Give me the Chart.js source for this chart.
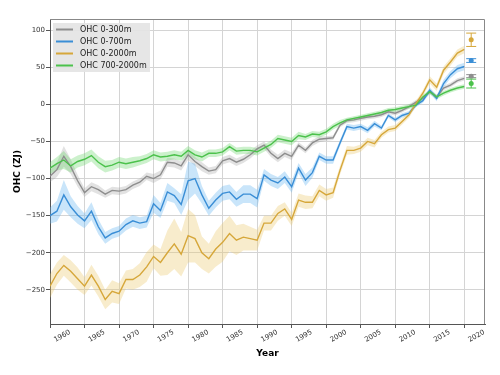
<!DOCTYPE html>
<html>
<head>
<meta charset="utf-8">
<script src="https://cdn.jsdelivr.net/npm/chart.js@4.4.1/dist/chart.umd.min.js"></script>
<style>
  html, body { margin: 0; padding: 0; background: #fff; }
</style>
</head>
<body>
<canvas id="chart" width="500" height="375"></canvas>
<script>
// years of the annual series
const years = [1960,1961,1962,1963,1964,1965,1966,1967,1968,1969,
  1970,1971,1972,1973,1974,1975,1976,1977,1978,1979,
  1980,1981,1982,1983,1984,1985,1986,1987,1988,1989,
  1990,1991,1992,1993,1994,1995,1996,1997,1998,1999,
  2000,2001,2002,2003,2004,2005,2006,2007,2008,2009,
  2010,2011,2012,2013,2014,2015,2016,2017,2018,2019,2020];

// OHC anomalies (ZJ)
const ohc300 = [-97,-88,-70,-84,-103,-119,-111,-115,-121,-116,
  -117,-115,-109,-105,-97,-100,-95,-78,-79,-83,
  -68,-77,-84,-90,-88,-76,-73,-78,-74,-68,
  -60,-55,-66,-73,-66,-70,-55,-62,-52,-47,
  -46,-45,-28,-22,-21,-19,-17,-16,-14,-10,
  -12,-8,-3,3,8,17,10,22,26,32,35];
const ohc700 = [-150,-144,-122,-138,-149,-157,-144,-165,-180,-174,
  -171,-162,-157,-160,-158,-134,-143,-118,-123,-135,
  -103,-100,-122,-140,-129,-120,-118,-128,-121,-121,
  -127,-95,-102,-106,-98,-111,-86,-102,-92,-70,
  -75,-75,-52,-30,-32,-30,-35,-26,-32,-15,
  -21,-15,-12,-1,5,19,8,28,40,48,51];
const ohc2000 = [-245,-228,-217,-225,-235,-245,-230,-245,-263,-252,
  -255,-236,-236,-230,-219,-205,-213,-200,-188,-202,
  -177,-181,-200,-208,-195,-186,-174,-183,-179,-181,
  -183,-160,-160,-147,-141,-155,-129,-132,-132,-116,
  -122,-119,-89,-62,-62,-59,-50,-53,-41,-34,
  -32,-23,-14,1,15,33,23,46,57,69,74];
const ohcDeep = [-86,-80,-75,-83,-77,-74,-69,-78,-84,-82,
  -78,-80,-78,-76,-73,-68,-71,-70,-68,-70,
  -62,-68,-71,-66,-66,-64,-57,-63,-62,-62,
  -64,-59,-54,-46,-48,-50,-42,-44,-40,-41,
  -37,-30,-25,-21,-19,-17,-15,-13,-11,-8,
  -7,-5,-3,-1,10,17,10,15,19,22,24];

// half width of the shaded uncertainty bands (ZJ)
const err300 = [8,10,14,10,8,6,6,6,5,5,
  5,5,5,5,5,6,6,6,6,6,
  7,6,6,5,5,5,5,5,5,5,
  5,5,5,5,5,5,4,4,4,4,
  3,3,3,3,3,3,3,3,3,3,
  3,3,3,3,3,3,3,3,3,3,3];
const err700 = [11,14,20,14,12,10,12,10,8,7,
  7,8,8,8,8,12,10,12,10,14,
  26,20,12,10,10,10,10,10,12,12,
  12,8,8,8,8,8,7,8,7,5,
  5,5,4,4,4,4,4,4,3,3,
  3,3,3,3,3,4,4,5,5,5,5];
const err2000 = [16,15,14,15,15,12,14,14,13,15,
  14,12,14,16,20,16,18,30,34,30,
  36,32,22,20,24,26,24,20,18,16,
  14,10,10,10,9,9,9,9,8,8,
  8,7,6,6,5,5,5,5,4,4,
  4,4,4,4,4,5,5,5,5,5,5];
const errDeep = [8,9,12,9,8,8,8,8,8,7,
  7,7,7,6,6,6,6,6,6,6,
  6,6,6,5,5,5,5,5,5,5,
  5,5,5,5,5,5,5,4,4,4,
  4,4,4,3,3,3,3,3,3,3,
  3,3,3,3,3,3,3,3,3,3,3];

// error bars drawn at the right edge
const barYear = 2021;
const barCenters = [38, 59, 87, 28];
const barHalf = [2, 2.5, 9, 6];

const seriesNames = ['OHC 0-300m', 'OHC 0-700m', 'OHC 0-2000m', 'OHC 700-2000m'];
const xTicks = [1960,1965,1970,1975,1980,1985,1990,1995,2000,2005,2010,2015,2020];
const yTicks = [-250,-200,-150,-100,-50,0,50,100];

const lineColors = ['#8e8e8e', '#3a8ed6', '#d6a73a', '#4cc24c'];
const bandColors = ['rgba(150,150,150,0.28)', 'rgba(100,180,240,0.35)', 'rgba(235,200,110,0.35)', 'rgba(110,215,110,0.35)'];

const values = [ohc300, ohc700, ohc2000, ohcDeep];
const errs = [err300, err700, err2000, errDeep];

function pts(arr, e, sign) {
  return years.map((y, i) => ({ x: y, y: arr[i] + sign * (e ? e[i] : 0) }));
}

const datasets = [];
values.forEach((arr, k) => {
  datasets.push({
    data: pts(arr, errs[k], 1), borderWidth: 0, pointRadius: 0,
    backgroundColor: bandColors[k], fill: '+1', order: 20 - k
  });
  datasets.push({
    data: pts(arr, errs[k], -1), borderWidth: 0, pointRadius: 0,
    fill: false, order: 20 - k
  });
});
values.forEach((arr, k) => {
  datasets.push({
    label: seriesNames[k], data: pts(arr, null, 0),
    borderColor: lineColors[k], borderWidth: 1.4, pointRadius: 0,
    fill: false, order: 8 - k
  });
});

const frame = {
  id: 'frame',
  afterDraw(chart) {
    const { ctx, chartArea: a } = chart;
    ctx.save();
    ctx.strokeStyle = '#888';
    ctx.lineWidth = 1;
    ctx.beginPath();
    ctx.moveTo(a.left, a.top + 0.5);
    ctx.lineTo(a.right - 0.5, a.top + 0.5);
    ctx.lineTo(a.right - 0.5, a.bottom);
    ctx.stroke();
    ctx.restore();
  }
};

const errorBars = {
  id: 'errorBars',
  afterDatasetsDraw(chart) {
    const { ctx, scales: { x, y } } = chart;
    const px = x.getPixelForValue(barYear);
    ctx.save();
    barCenters.forEach((c, k) => {
      const top = y.getPixelForValue(c + barHalf[k]);
      const bot = y.getPixelForValue(c - barHalf[k]);
      ctx.strokeStyle = lineColors[k];
      ctx.fillStyle = lineColors[k];
      ctx.lineWidth = 1;
      ctx.beginPath();
      ctx.moveTo(px, top); ctx.lineTo(px, bot);
      ctx.moveTo(px - 5, top); ctx.lineTo(px + 5, top);
      ctx.moveTo(px - 5, bot); ctx.lineTo(px + 5, bot);
      ctx.stroke();
      ctx.beginPath();
      ctx.arc(px, y.getPixelForValue(c), 2.5, 0, Math.PI * 2);
      ctx.fill();
    });
    ctx.restore();
  }
};

const boxLegend = {
  id: 'boxLegend',
  afterDraw(chart) {
    const { ctx, chartArea: a } = chart;
    const x0 = a.left + 3, y0 = a.top + 4;
    ctx.save();
    ctx.fillStyle = 'rgba(228,228,228,0.92)';
    ctx.fillRect(x0, y0, 97, 49);
    ctx.font = '8px "DejaVu Sans"';
    ctx.textBaseline = 'middle';
    seriesNames.forEach((name, k) => {
      const yy = y0 + 6.5 + k * 12;
      ctx.strokeStyle = lineColors[k];
      ctx.lineWidth = 2;
      ctx.beginPath();
      ctx.moveTo(x0 + 3, yy); ctx.lineTo(x0 + 20, yy);
      ctx.stroke();
      ctx.fillStyle = '#222';
      ctx.fillText(name, x0 + 27, yy);
    });
    ctx.restore();
  }
};

new Chart(document.getElementById('chart'), {
  type: 'line',
  data: { datasets },
  plugins: [frame, errorBars, boxLegend],
  options: {
    responsive: false,
    devicePixelRatio: 1,
    animation: false,
    layout: { padding: { top: 19, right: 15, left: 0, bottom: 0 } },
    plugins: { legend: { display: false }, tooltip: { enabled: false } },
    elements: { line: { tension: 0 } },
    scales: {
      x: {
        type: 'linear', min: 1960, max: 2023,
        afterBuildTicks: s => { s.ticks = xTicks.map(v => ({ value: v })); },
        afterFit: s => { s.height = 51; s.paddingLeft = 0; s.paddingRight = 0; },
        ticks: {
          autoSkip: false, minRotation: 30, maxRotation: 30, labelOffset: 20, padding: 0,
          color: '#333', font: { family: 'DejaVu Sans', size: 7 },
          callback: v => String(v)
        },
        grid: { color: '#d4d4d4', tickColor: '#555', tickLength: 4 },
        border: { color: '#555' },
        title: { display: true, text: 'Year', color: '#000',
          font: { family: 'DejaVu Sans', size: 9, weight: 'bold' }, padding: { top: 0, bottom: 16 } }
      },
      y: {
        min: -296, max: 115,
        afterBuildTicks: s => { s.ticks = yTicks.map(v => ({ value: v })); },
        afterFit: s => { s.width = 50; s.paddingTop = 0; s.paddingBottom = 0; },
        ticks: {
          padding: 1, color: '#333', font: { family: 'DejaVu Sans', size: 7 },
          callback: v => String(v).replace('-', '\u2212')
        },
        grid: { color: '#d4d4d4', tickColor: '#555', tickLength: 4 },
        border: { color: '#555' },
        title: { display: true, text: 'OHC (ZJ)', color: '#000',
          font: { family: 'DejaVu Sans', size: 9, weight: 'bold' }, padding: { top: 12, bottom: 0 } }
      }
    }
  }
});
</script>
</body>
</html>
